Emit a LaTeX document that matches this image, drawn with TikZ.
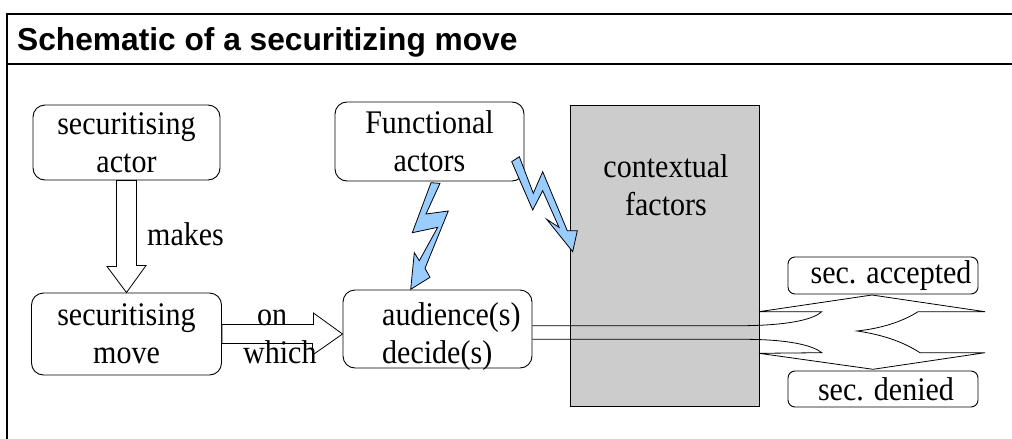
\documentclass[tikz,border=0pt]{standalone}
\usepackage{fontspec}
\setmainfont{Liberation Serif}[FakeStretch=0.91]
\newfontfamily\titlefont{Liberation Sans}
\usetikzlibrary{calc}
\definecolor{ink}{HTML}{000000}
\definecolor{ctxgray}{HTML}{CCCCCC}
\definecolor{boltblue}{HTML}{99CCFF}
\tikzset{
  box/.style={draw=ink, rounded corners=12pt, line width=0.9pt, fill=white, align=center, inner sep=0pt, font=\fontsize{33}{38}\selectfont},
  smallbox/.style={box, rounded corners=7pt},
  ctxbox/.style={draw=ink, fill=ctxgray, line width=0.9pt, inner sep=0pt},
  label/.style={font=\fontsize{33}{38}\selectfont, inner sep=0pt, align=center},
  hollow/.style={draw=ink, fill=white, line width=0.8pt, line join=miter},
  bolt/.style={draw=ink, fill=boltblue, line width=0.8pt, line join=miter},
  frame/.style={draw=ink, line width=1.4pt},
  fork/.style={draw=ink, line width=0.8pt}
}
\begin{document}
\begin{tikzpicture}[x=1pt, y=-1pt]
\useasboundingbox (0,0) rectangle (1012,439);
% frame and heading
\draw[frame] (7,439) -- (7,14) -- (1012,14);
\draw[frame] (7,64) -- (1012,64);
\node[anchor=base west, inner sep=0pt, font=\titlefont\fontsize{31.7}{36}\selectfont\bfseries] (ttl) at (17,50) {Schematic of a securitizing move};
% boxes
\node[box, minimum width=187pt, minimum height=75pt] (act) at (126.5,142.5) {securitising\\actor};
\node[box, minimum width=190pt, minimum height=82pt] (mov) at (126.5,334) {securitising\\move};
\node[box, minimum width=189pt, minimum height=79pt] (func) at (429.5,141.5) {Functional\\actors};
\node[box, minimum width=189pt, minimum height=78pt] (aud) at (437.5,329) {};
\node[label, align=left, anchor=north west] (audtxt) at (382,302) {audience(s)\\decide(s)};
\node[ctxbox, minimum width=189pt, minimum height=301pt] (ctx) at (664.5,255.5) {};
\node[label, anchor=north] (ctxtxt) at (666,154.5) {contextual\\factors};
\node[smallbox, minimum width=190pt, minimum height=37pt] (acc) at (883,275.5) {\hspace*{16pt}sec. accepted};
\node[smallbox, minimum width=190pt, minimum height=36pt] (den) at (883,389) {sec. denied\hspace*{-6pt}};
% hollow arrows
\draw[hollow] ($(act.south)+(-10,0)$) -- ++(0,86) -- ++(-9.5,0) -- (mov.north) -- ++(19.5,-27) -- ++(-9.5,0) -- ($(act.south)+(10,0)$) -- cycle;
\node[label, anchor=base west] (mk) at (147,245) {makes};
\coordinate (tip) at ($(aud.west)+(0,5)$);
\draw[hollow] ($(mov.east)+(0,-9.5)$) -- ++(91.5,0) -- ++(0,-11.5) -- (tip) -- ++(-30,21) -- ++(0,-11.5) -- ($(mov.east)+(0,9.5)$) -- cycle;
\node[label, anchor=base west] (on) at (257,325) {on};
\node[label, anchor=base west] (wh) at (243,363) {which};
% bolts
\draw[bolt] (431,182.7) -- (440,183.3) -- (426,214) -- (448.3,211) -- (425,268.3) -- (430,277.3) -- (410.7,289.3) -- (414.3,252.7) -- (419.3,260.7) -- (437.7,227.3) -- (412.3,232.7) -- cycle;
\draw[bolt] (511.7,161.7) -- (532.7,210) -- (542.7,190.7) -- (559,227.3) -- (546.7,219.3) -- (572.7,251.7) -- (577.3,230.7) -- (567.3,230.7) -- (542.7,171.7) -- (533.3,193.3) -- (519.3,156.7) -- cycle;
% fork to accepted / denied
\draw[fork] ($(aud.east)+(0,-3.3)$) -- (745,325.7) .. controls (795,325) and (815,318) .. (821.7,311.7) -- (759,311.7) -- (872,295) -- (985,311.7) -- (918,311.7) .. controls (905,320) and (885,328) .. (857,331) .. controls (885,335) and (905,343) .. (920,352.7) -- (985,352.7) -- (873,369.3) -- (759,353.3) -- (821.7,352.7) .. controls (815,347) and (795,339.5) .. (745,339.3) -- ($(aud.east)+(0,10.3)$);
\end{tikzpicture}
\end{document}
